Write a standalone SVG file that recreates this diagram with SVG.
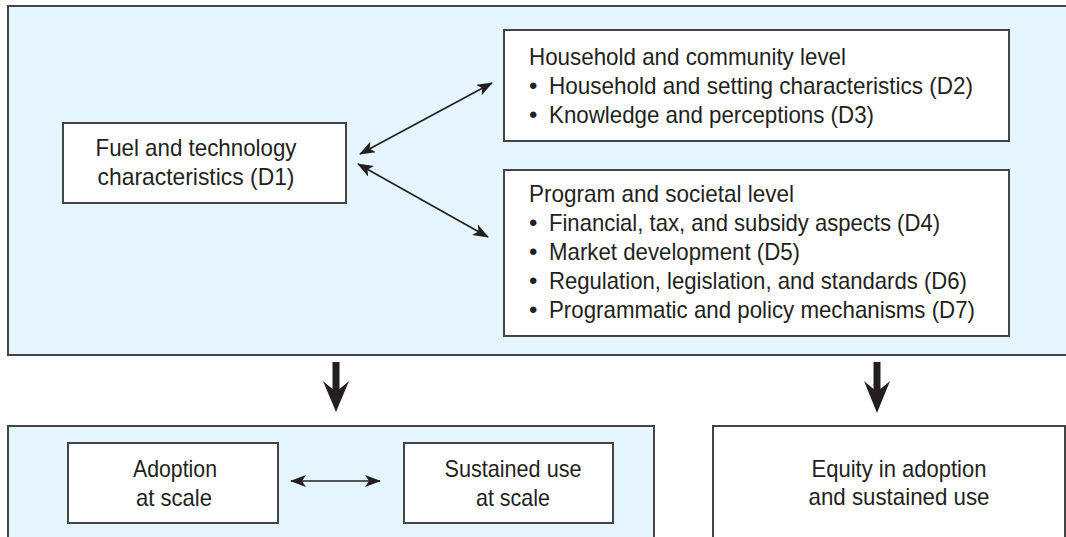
<svg xmlns="http://www.w3.org/2000/svg" width="1066" height="537" viewBox="0 0 1066 537">
<style>
.panel{fill:#E5F5FD;stroke:#444;stroke-width:2}
.box{fill:#fff;stroke:#444;stroke-width:2}
.t{font-family:"Liberation Sans",Arial,sans-serif;font-size:24px;fill:#231F20}
.c{text-anchor:middle}
.thin{stroke:#231F20;stroke-width:1.6;fill:none}
.big{fill:#231F20}
</style>
<defs>
<marker id="ah" viewBox="0 0 16 12" refX="15" refY="6" markerWidth="16" markerHeight="12" markerUnits="userSpaceOnUse" orient="auto-start-reverse">
<path d="M0,0 L16,6 L0,12 L4,6 Z" fill="#231F20"/>
</marker>
</defs>
<rect width="1066" height="537" fill="#fff"/>
<g id="top-panel"><rect class="panel" x="8" y="6" width="1070" height="349"/></g>
<g id="bottom-left-panel"><rect class="panel" x="8" y="426" width="646" height="130"/></g>
<g id="d1">
<rect class="box" x="63" y="123" width="283" height="80"/>
<text class="t c" x="196" y="156" textLength="201" lengthAdjust="spacingAndGlyphs">Fuel and technology</text>
<text class="t c" x="196" y="185" textLength="197" lengthAdjust="spacingAndGlyphs">characteristics (D1)</text>
</g>
<g id="household">
<rect class="box" x="504" y="30" width="505" height="111"/>
<text class="t" x="529" y="65" textLength="317" lengthAdjust="spacingAndGlyphs">Household and community level</text>
<text class="t" x="529" y="94">•</text>
<text class="t" x="549" y="94" textLength="424" lengthAdjust="spacingAndGlyphs">Household and setting characteristics (D2)</text>
<text class="t" x="529" y="123">•</text>
<text class="t" x="549" y="123" textLength="325" lengthAdjust="spacingAndGlyphs">Knowledge and perceptions (D3)</text>
</g>
<g id="program">
<rect class="box" x="504" y="170" width="505" height="166"/>
<text class="t" x="529" y="202" textLength="265" lengthAdjust="spacingAndGlyphs">Program and societal level</text>
<text class="t" x="529" y="231">•</text>
<text class="t" x="549" y="231" textLength="391" lengthAdjust="spacingAndGlyphs">Financial, tax, and subsidy aspects (D4)</text>
<text class="t" x="529" y="260">•</text>
<text class="t" x="549" y="260" textLength="251" lengthAdjust="spacingAndGlyphs">Market development (D5)</text>
<text class="t" x="529" y="289">•</text>
<text class="t" x="549" y="289" textLength="418" lengthAdjust="spacingAndGlyphs">Regulation, legislation, and standards (D6)</text>
<text class="t" x="529" y="318">•</text>
<text class="t" x="549" y="318" textLength="426" lengthAdjust="spacingAndGlyphs">Programmatic and policy mechanisms (D7)</text>
</g>
<g id="adoption">
<rect class="box" x="68" y="443" width="210" height="80"/>
<text class="t c" x="175" y="477" textLength="84" lengthAdjust="spacingAndGlyphs">Adoption</text>
<text class="t c" x="174" y="506" textLength="76" lengthAdjust="spacingAndGlyphs">at scale</text>
</g>
<g id="sustained">
<rect class="box" x="404" y="443" width="209" height="80"/>
<text class="t c" x="513" y="477" textLength="137" lengthAdjust="spacingAndGlyphs">Sustained use</text>
<text class="t c" x="513" y="506" textLength="74" lengthAdjust="spacingAndGlyphs">at scale</text>
</g>
<g id="equity">
<rect class="box" x="713" y="426" width="352" height="130"/>
<text class="t c" x="899" y="477" textLength="175" lengthAdjust="spacingAndGlyphs">Equity in adoption</text>
<text class="t c" x="899" y="505" textLength="181" lengthAdjust="spacingAndGlyphs">and sustained use</text>
</g>
<g id="connectors">
<line class="thin" x1="360" y1="154" x2="492" y2="83" marker-start="url(#ah)" marker-end="url(#ah)"/>
<line class="thin" x1="358" y1="164" x2="488" y2="237" marker-start="url(#ah)" marker-end="url(#ah)"/>
<line class="thin" x1="291" y1="481" x2="380" y2="481" marker-start="url(#ah)" marker-end="url(#ah)"/>
<path class="big" d="M332.5,362 L339.5,362 L339.5,389 L349,381 L336,412 L323,381 L332.5,389 Z"/>
<path class="big" d="M873.5,362 L880.5,362 L880.5,389 L890,381 L877,413 L864,381 L873.5,389 Z"/>
</g>
</svg>
